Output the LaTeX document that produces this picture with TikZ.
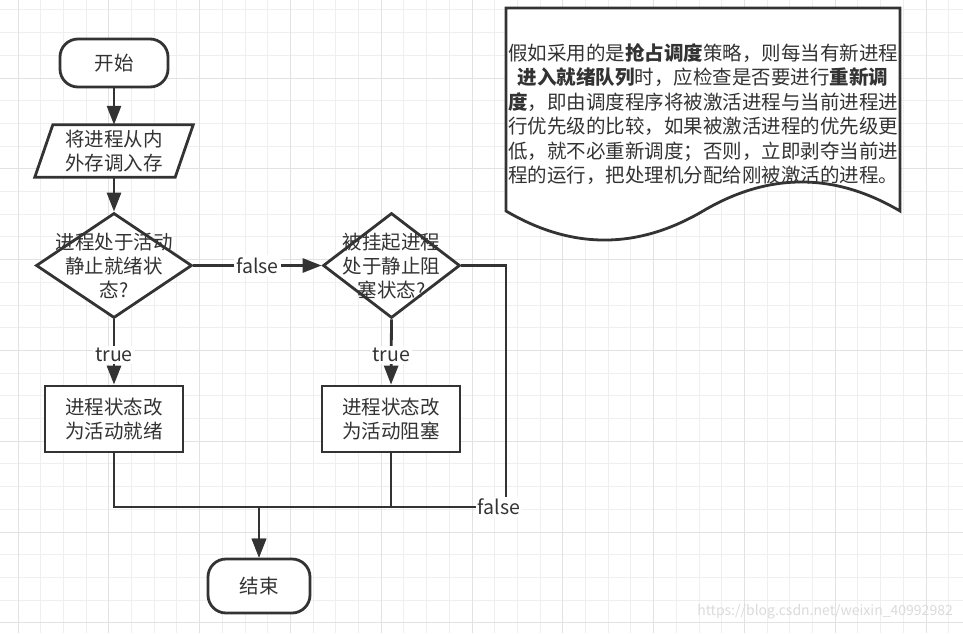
\documentclass[tikz,border=0pt]{standalone}
\usepackage{fontspec}
\setmainfont{Noto Sans CJK SC}
\usetikzlibrary{arrows.meta,shapes.geometric}
\definecolor{ink}{HTML}{333333}
\definecolor{gminor}{HTML}{EFEFEF}
\definecolor{gmajor}{HTML}{E2E2E2}
\begin{document}
\begin{tikzpicture}[x=1pt,y=-1pt,
  every node/.style={text=ink, font=\fontsize{19.5}{24}\selectfont},
  conn/.style={draw=ink, line width=2.8pt},
  arr/.style={conn, -{Triangle[length=19pt,width=14pt]}},
  shapeline/.style={draw=ink, line width=2.8pt, fill=white},
  term/.style={shapeline, rounded corners=18pt, minimum width=108pt, minimum height=48pt, inner sep=0pt},
  procbox/.style={shapeline, minimum width=138pt, minimum height=66pt, align=center, inner sep=0pt},
  dia/.style={shapeline, diamond, minimum width=156pt, minimum height=105pt, inner sep=0pt},
  txt/.style={align=center, inner sep=0pt},
  lbl/.style={fill=white, inner sep=2pt}
]
\useasboundingbox[fill=white] (0,0) rectangle (963,633);
% grid
\foreach \i in {0,...,41} { \pgfmathsetmacro\gx{18+22.7*\i} \draw[gminor, line width=1pt] (\gx,0) -- (\gx,633); }
\foreach \i in {0,...,27} { \pgfmathsetmacro\gy{9.9+22.7*\i} \draw[gminor, line width=1pt] (0,\gy) -- (963,\gy); }
\foreach \i in {0,4,...,40} { \pgfmathsetmacro\gx{18+22.7*\i} \draw[gmajor, line width=1pt] (\gx,0) -- (\gx,633); }
\foreach \i in {3,7,...,27} { \pgfmathsetmacro\gy{9.9+22.7*\i} \draw[gmajor, line width=1pt] (0,\gy) -- (963,\gy); }

% nodes
\node[term] (start) at (114,63) {开始};
\node[minimum width=158pt, minimum height=52pt, inner sep=0pt] (p) at (114,151) {};
\draw[shapeline] (p.south west) -- ([xshift=18pt]p.north west) -- (p.north east) -- ([xshift=-18pt]p.south east) -- cycle;
\node[txt] (ptext) at (p) {将进程从内\\外存调入存};

\node[dia] (d1) at (114,265.5) {};
\node[txt] (d1text) at (114,266) {进程处于活动\\静止就绪状\\态?};
\node[dia, minimum width=137pt] (d2) at (391.5,265.5) {};
\node[txt] (d2text) at (391.5,266) {被挂起进程\\处于静止阻\\塞状态?};

\node[procbox] (b1) at (114,419) {进程状态改\\为活动就绪};
\node[procbox] (b2) at (391,419) {进程状态改\\为活动阻塞};

\node[term, minimum width=102pt, minimum height=54pt] (e) at (259,586) {结束};

% document shape
\draw[shapeline] (506,8) -- (900,8) -- (900,211)
  .. controls (834.3,172.3) and (768.7,172.3) .. (703,211)
  .. controls (637.3,249.7) and (571.7,249.7) .. (506,211) -- cycle;
\node[txt, font=\fontsize{19.5}{24.4}\selectfont] (doc) at (703,114) {%
假如采用的是\textbf{抢占调度}策略，则每当有新进程\\
\textbf{进入就绪队列}时，应检查是否要进行\textbf{重新调}\\
\textbf{度}，即由调度程序将被激活进程与当前进程进\\
行优先级的比较，如果被激活进程的优先级更\\
低，就不必重新调度；否则，立即剥夺当前进\\
程的运行，把处理机分配给刚被激活的进程。};

% connectors
\coordinate (j) at (259,507);
\coordinate (r) at (506,507);
\draw[arr] (start.south) -- (p.north);
\draw[arr] (p.south) -- (d1.north);
\draw[arr] (d1.east) -- node[lbl] {false} (d2.west);
\draw[arr] (d1.south) -- node[lbl, pos=0.55] {true} (b1.north);
\draw[arr] (d2.south) -- node[lbl, pos=0.55] {true} (b2.north);
\draw[arr] (b1.south) |- (j) -- (e.north);
\draw[arr] (b2.south) |- (j) -- (e.north);
\draw[conn] (d2.east) -| (r) -- (j);
\node[lbl] (f2) at (499,507) {false};

\node[text=black!14, font=\fontsize{14}{16}\selectfont, anchor=east, inner sep=0pt] (wm) at (953,612) {https://blog.csdn.net/weixin\_40992982};
\end{tikzpicture}
\end{document}
